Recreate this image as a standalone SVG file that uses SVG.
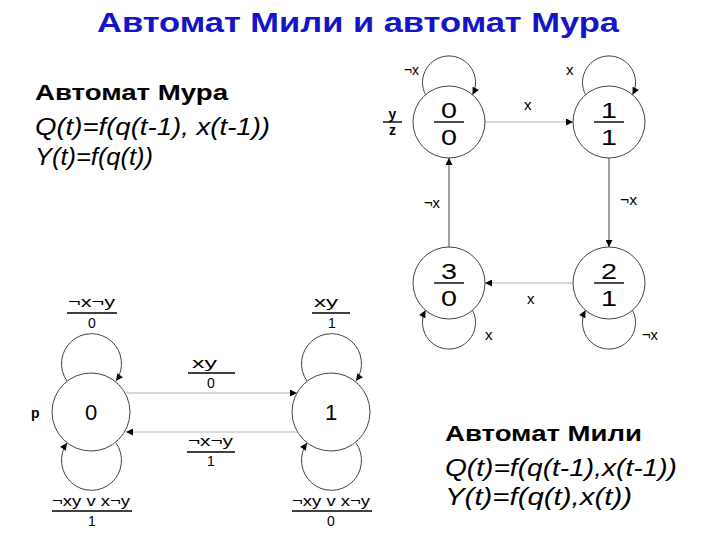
<svg xmlns="http://www.w3.org/2000/svg" width="720" height="540" viewBox="0 0 720 540">
<defs>
<style>
text{font-family:"Liberation Sans",Arial,sans-serif;fill:#000}
.title{font-size:28px;font-weight:bold;fill:#1414c8}
.head{font-size:22px;font-weight:bold}
.formula{font-size:23px;font-style:italic}
.lbl{font-size:14px}
.mlbl{font-size:15px}
.st{font-size:22px}
.bl{font-size:14px;font-weight:bold}
.node circle{fill:#fff;stroke:#444;stroke-width:1}
.frac{stroke:#000;stroke-width:1.4}
.loop{fill:none;stroke:#444;stroke-width:1}
.edge{fill:none;stroke:#444;stroke-width:1}
.edge.light{stroke:#b4b4b4}
</style>
<marker id="ah" viewBox="0 0 10 10" refX="10" refY="5" markerWidth="9" markerHeight="7" markerUnits="userSpaceOnUse" orient="auto">
<path d="M0,0 L10,5 L0,10 z" fill="#000"/>
</marker>
</defs>
<rect width="720" height="540" fill="#fff"/>

<text class="title" x="97" y="32" textLength="522" lengthAdjust="spacingAndGlyphs">Автомат Мили и автомат Мура</text>

<g id="moore-text">
<text class="head" x="35" y="100" textLength="193" lengthAdjust="spacingAndGlyphs">Автомат Мура</text>
<text class="formula" x="35" y="135" textLength="235" lengthAdjust="spacingAndGlyphs">Q(t)=f(q(t-1), x(t-1))</text>
<text class="formula" x="35" y="165" textLength="118" lengthAdjust="spacingAndGlyphs">Y(t)=f(q(t))</text>
</g>

<g id="mealy-text">
<text class="head" x="445" y="441" textLength="197" lengthAdjust="spacingAndGlyphs">Автомат Мили</text>
<text class="formula" x="445" y="476" textLength="232" lengthAdjust="spacingAndGlyphs">Q(t)=f(q(t-1),x(t-1))</text>
<text class="formula" x="445" y="505" textLength="187" lengthAdjust="spacingAndGlyphs">Y(t)=f(q(t),x(t))</text>
</g>

<!-- Moore connectors -->
<g id="moore-connectors">
<path class="loop" d="M425.5,94.7 A26.5,26.5 0 1 1 472.5,94.7" marker-end="url(#ah)"/>
<path class="loop" d="M585.5,94.7 A26.5,26.5 0 1 1 632.5,94.7" marker-end="url(#ah)"/>
<path class="loop" d="M472.5,310.3 A26.5,26.5 0 1 1 425.5,310.3" marker-end="url(#ah)"/>
<path class="loop" d="M632.5,310.3 A26.5,26.5 0 1 1 585.5,310.3" marker-end="url(#ah)"/>
<line class="edge light" x1="485" y1="122" x2="573" y2="122" marker-end="url(#ah)"/>
<line class="edge" x1="609" y1="158" x2="609" y2="247" marker-end="url(#ah)"/>
<line class="edge light" x1="573" y1="283" x2="485" y2="283" marker-end="url(#ah)"/>
<line class="edge" x1="449" y1="247" x2="449" y2="158" marker-end="url(#ah)"/>
<text class="mlbl" x="404" y="75" textLength="15" lengthAdjust="spacingAndGlyphs">¬x</text>
<text class="mlbl" x="566" y="75">x</text>
<text class="mlbl" x="524" y="110">x</text>
<text class="mlbl" x="620" y="205" textLength="17" lengthAdjust="spacingAndGlyphs">¬x</text>
<text class="mlbl" x="424" y="208" textLength="16" lengthAdjust="spacingAndGlyphs">¬x</text>
<text class="mlbl" x="527" y="304">x</text>
<text class="mlbl" x="485" y="340">x</text>
<text class="mlbl" x="642" y="340" textLength="16" lengthAdjust="spacingAndGlyphs">¬x</text>
</g>

<g id="moore-yz">
<text class="bl" x="392.5" y="119" text-anchor="middle">y</text>
<line class="frac" x1="383" y1="122" x2="402" y2="122"/>
<text class="bl" x="392.5" y="135" text-anchor="middle">z</text>
</g>

<g id="moore-s0" class="node">
<circle cx="449" cy="122" r="36"/>
<text class="st" x="441" y="118" textLength="16" lengthAdjust="spacingAndGlyphs">0</text>
<line class="frac" x1="434" y1="122" x2="464" y2="122"/>
<text class="st" x="441" y="145" textLength="16" lengthAdjust="spacingAndGlyphs">0</text>
</g>
<g id="moore-s1" class="node">
<circle cx="609" cy="122" r="36"/>
<text class="st" x="601" y="118" textLength="16" lengthAdjust="spacingAndGlyphs">1</text>
<line class="frac" x1="594" y1="122" x2="624" y2="122"/>
<text class="st" x="601" y="145" textLength="16" lengthAdjust="spacingAndGlyphs">1</text>
</g>
<g id="moore-s2" class="node">
<circle cx="609" cy="283" r="36"/>
<text class="st" x="601" y="279" textLength="16" lengthAdjust="spacingAndGlyphs">2</text>
<line class="frac" x1="594" y1="283" x2="624" y2="283"/>
<text class="st" x="601" y="306" textLength="16" lengthAdjust="spacingAndGlyphs">1</text>
</g>
<g id="moore-s3" class="node">
<circle cx="449" cy="283" r="36"/>
<text class="st" x="441" y="279" textLength="16" lengthAdjust="spacingAndGlyphs">3</text>
<line class="frac" x1="434" y1="283" x2="464" y2="283"/>
<text class="st" x="441" y="306" textLength="16" lengthAdjust="spacingAndGlyphs">0</text>
</g>

<!-- Mealy connectors -->
<g id="mealy-connectors">
<path class="loop" d="M67,381 A30,30 0 1 1 116,381" marker-end="url(#ah)"/>
<path class="loop" d="M116,443 A30,30 0 1 1 67,443" marker-end="url(#ah)"/>
<path class="loop" d="M307,381 A30,30 0 1 1 356,381" marker-end="url(#ah)"/>
<path class="loop" d="M356,443 A30,30 0 1 1 307,443" marker-end="url(#ah)"/>
<line class="edge light" x1="126" y1="393" x2="297" y2="393" marker-end="url(#ah)"/>
<line class="edge light" x1="297" y1="432" x2="126" y2="432" marker-end="url(#ah)"/>

<text class="lbl" x="68" y="307" textLength="47" lengthAdjust="spacingAndGlyphs">¬x¬y</text>
<line class="frac" x1="67" y1="313" x2="117" y2="313"/>
<text class="lbl" x="92" y="328" text-anchor="middle">0</text>

<text class="lbl" x="314" y="307" textLength="24" lengthAdjust="spacingAndGlyphs">xy</text>
<line class="frac" x1="312" y1="313" x2="350" y2="313"/>
<text class="lbl" x="332" y="328" text-anchor="middle">1</text>

<text class="lbl" x="192" y="368" textLength="25" lengthAdjust="spacingAndGlyphs">xy</text>
<line class="frac" x1="188" y1="373" x2="235" y2="373"/>
<text class="lbl" x="211" y="388" text-anchor="middle">0</text>

<text class="lbl" x="188" y="446" textLength="45" lengthAdjust="spacingAndGlyphs">¬x¬y</text>
<line class="frac" x1="187" y1="452" x2="235" y2="452"/>
<text class="lbl" x="211" y="466" text-anchor="middle">1</text>

<text class="lbl" x="52" y="506" textLength="78" lengthAdjust="spacingAndGlyphs">¬xy v x¬y</text>
<line class="frac" x1="52" y1="511" x2="132" y2="511"/>
<text class="lbl" x="92" y="526" text-anchor="middle">1</text>

<text class="lbl" x="292" y="506" textLength="78" lengthAdjust="spacingAndGlyphs">¬xy v x¬y</text>
<line class="frac" x1="292" y1="511" x2="372" y2="511"/>
<text class="lbl" x="331" y="526" text-anchor="middle">0</text>
</g>

<text class="bl" x="31" y="418">p</text>

<g id="mealy-s0" class="node">
<circle cx="91" cy="412" r="39"/>
<text class="st" x="91" y="420" font-size="24" text-anchor="middle">0</text>
</g>
<g id="mealy-s1" class="node">
<circle cx="331" cy="412" r="39"/>
<text class="st" x="331" y="420" font-size="24" text-anchor="middle">1</text>
</g>
</svg>
